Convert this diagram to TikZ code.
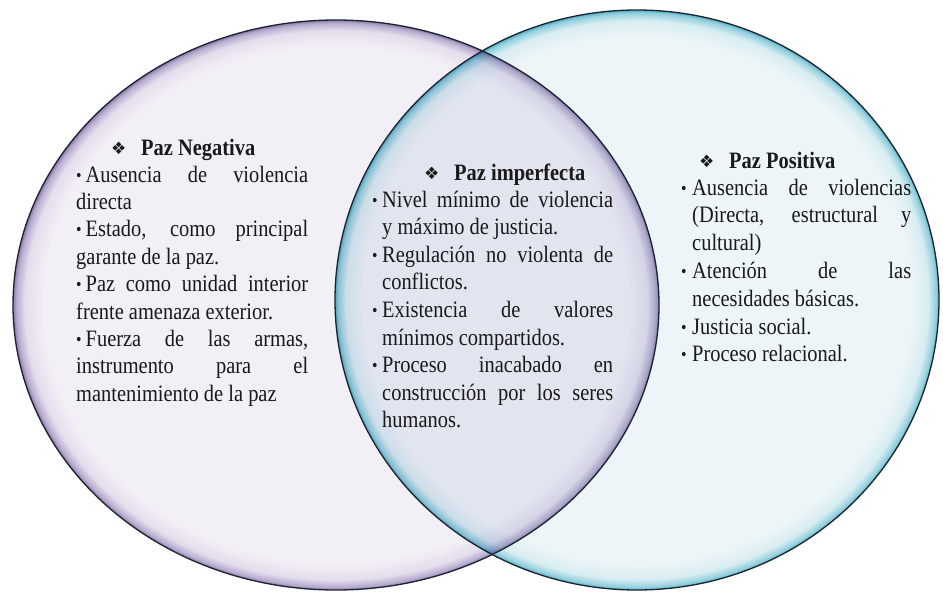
\documentclass[tikz,border=0pt]{standalone}
\usepackage{fontspec}
\setmainfont{Liberation Serif}[FakeStretch=0.87]
\newfontfamily\dejavu{DejaVu Sans}
\definecolor{lavin}{HTML}{F3EFF6}
\definecolor{lavmid}{HTML}{E4DDED}
\definecolor{lavrim}{HTML}{B8ABCE}
\definecolor{lavedge}{HTML}{8A78A8}
\definecolor{cyin}{HTML}{EDF5F8}
\definecolor{cymid}{HTML}{D7EDF2}
\definecolor{cyrim}{HTML}{92CFDD}
\definecolor{cyedge}{HTML}{56ADC2}
\definecolor{bordercol}{HTML}{1A2430}
\pgfdeclareradialshading{lavbubble}{\pgfpoint{0bp}{0bp}}{color(0bp)=(lavin); color(22.7bp)=(lavin); color(24.1bp)=(lavmid); color(24.75bp)=(lavrim); color(25bp)=(lavedge); color(50bp)=(lavedge)}
\pgfdeclareradialshading{cybubble}{\pgfpoint{0bp}{0bp}}{color(0bp)=(cyin); color(22.7bp)=(cyin); color(24.1bp)=(cymid); color(24.75bp)=(cyrim); color(25bp)=(cyedge); color(50bp)=(cyedge)}
\newcommand\JL[2]{\makebox[#1][s]{#2}}
\newcommand\bul{{\fontsize{18pt}{18pt}\selectfont\raisebox{1pt}{\textbullet}}}
\newcommand\dia{\makebox[30pt][l]{\dejavu\mdseries\fontsize{17pt}{17pt}\selectfont\raisebox{0.5pt}{❖}}}
\begin{document}
\begin{tikzpicture}[x=1pt,y=-1pt,
  txt/.style={inner sep=0pt, anchor=base west, font=\fontsize{23.5pt}{27pt}\selectfont, text=black!90},
  ttl/.style={txt, font=\bfseries\fontsize{23.5pt}{27pt}\selectfont},
  rim/.style={draw=bordercol, line width=1.3pt}]
\useasboundingbox (0,0) rectangle (943,592);
\coordinate (cl) at (336,305);
\coordinate (cr) at (637,300);
\shade[shading=lavbubble] (cl) ellipse [x radius=323pt, y radius=285pt];
\shade[shading=cybubble] (cr) ellipse [x radius=302pt, y radius=290pt];
\begin{scope}
  \clip (cr) ellipse [x radius=302pt, y radius=290pt];
  \begin{scope}[blend mode=multiply]
    \shade[shading=lavbubble] (cl) ellipse [x radius=323pt, y radius=285pt];
  \end{scope}
\end{scope}
\draw[rim] (cl) ellipse [x radius=323pt, y radius=285pt];
\draw[rim] (cr) ellipse [x radius=302pt, y radius=290pt];
% titles
\node[ttl] (tneg) at (111,155) {\dia Paz Negativa};
\node[ttl] (timp) at (424,180) {\dia Paz imperfecta};
\node[ttl] (tpos) at (699,168) {\dia Paz Positiva};
% left column
\node[txt] (n1) at (76,182.0) {\JL{232pt}{\bul\hspace{4pt}Ausencia de violencia}};
\node[txt] (n2) at (76,209.4) {directa};
\node[txt] (n3) at (76,236.8) {\JL{232pt}{\bul\hspace{4pt}Estado, como principal}};
\node[txt] (n4) at (76,264.2) {garante de la paz.};
\node[txt] (n5) at (76,291.6) {\JL{232pt}{\bul\hspace{4pt}Paz como unidad interior}};
\node[txt] (n6) at (76,319.0) {frente amenaza exterior.};
\node[txt] (n7) at (76,346.4) {\JL{232pt}{\bul\hspace{4pt}Fuerza de las armas,}};
\node[txt] (n8) at (76,373.8) {\JL{232pt}{instrumento para el}};
\node[txt] (n9) at (76,401.2) {mantenimiento de la paz};
% center column
\node[txt] (i1b) at (372,207.0) {\bul};
\node[txt] (i1) at (382,207.0) {\JL{231pt}{Nivel mínimo de violencia}};
\node[txt] (i2) at (382,234.6) {y máximo de justicia.};
\node[txt] (i3b) at (372,262.2) {\bul};
\node[txt] (i3) at (382,262.2) {\JL{231pt}{Regulación no violenta de}};
\node[txt] (i4) at (382,289.8) {conflictos.};
\node[txt] (i5b) at (372,317.4) {\bul};
\node[txt] (i5) at (382,317.4) {\JL{231pt}{Existencia de valores}};
\node[txt] (i6) at (382,345.0) {mínimos compartidos.};
\node[txt] (i7b) at (372,372.6) {\bul};
\node[txt] (i7) at (382,372.6) {\JL{231pt}{Proceso inacabado en}};
\node[txt] (i8) at (382,400.2) {\JL{231pt}{construcción por los seres}};
\node[txt] (i9) at (382,427.8) {humanos.};
% right column
\node[txt] (p1b) at (681,195.0) {\bul};
\node[txt] (p1) at (692,195.0) {\JL{219pt}{Ausencia de violencias}};
\node[txt] (p2) at (692,222.8) {\JL{219pt}{(Directa, estructural y}};
\node[txt] (p3) at (692,250.6) {cultural)};
\node[txt] (p4b) at (681,278.4) {\bul};
\node[txt] (p4) at (692,278.4) {\JL{219pt}{Atención de las}};
\node[txt] (p5) at (692,306.2) {necesidades básicas.};
\node[txt] (p6b) at (681,334.0) {\bul};
\node[txt] (p6) at (692,334.0) {Justicia social.};
\node[txt] (p7b) at (681,361.8) {\bul};
\node[txt] (p7) at (692,361.8) {Proceso relacional.};
\end{tikzpicture}
\end{document}
